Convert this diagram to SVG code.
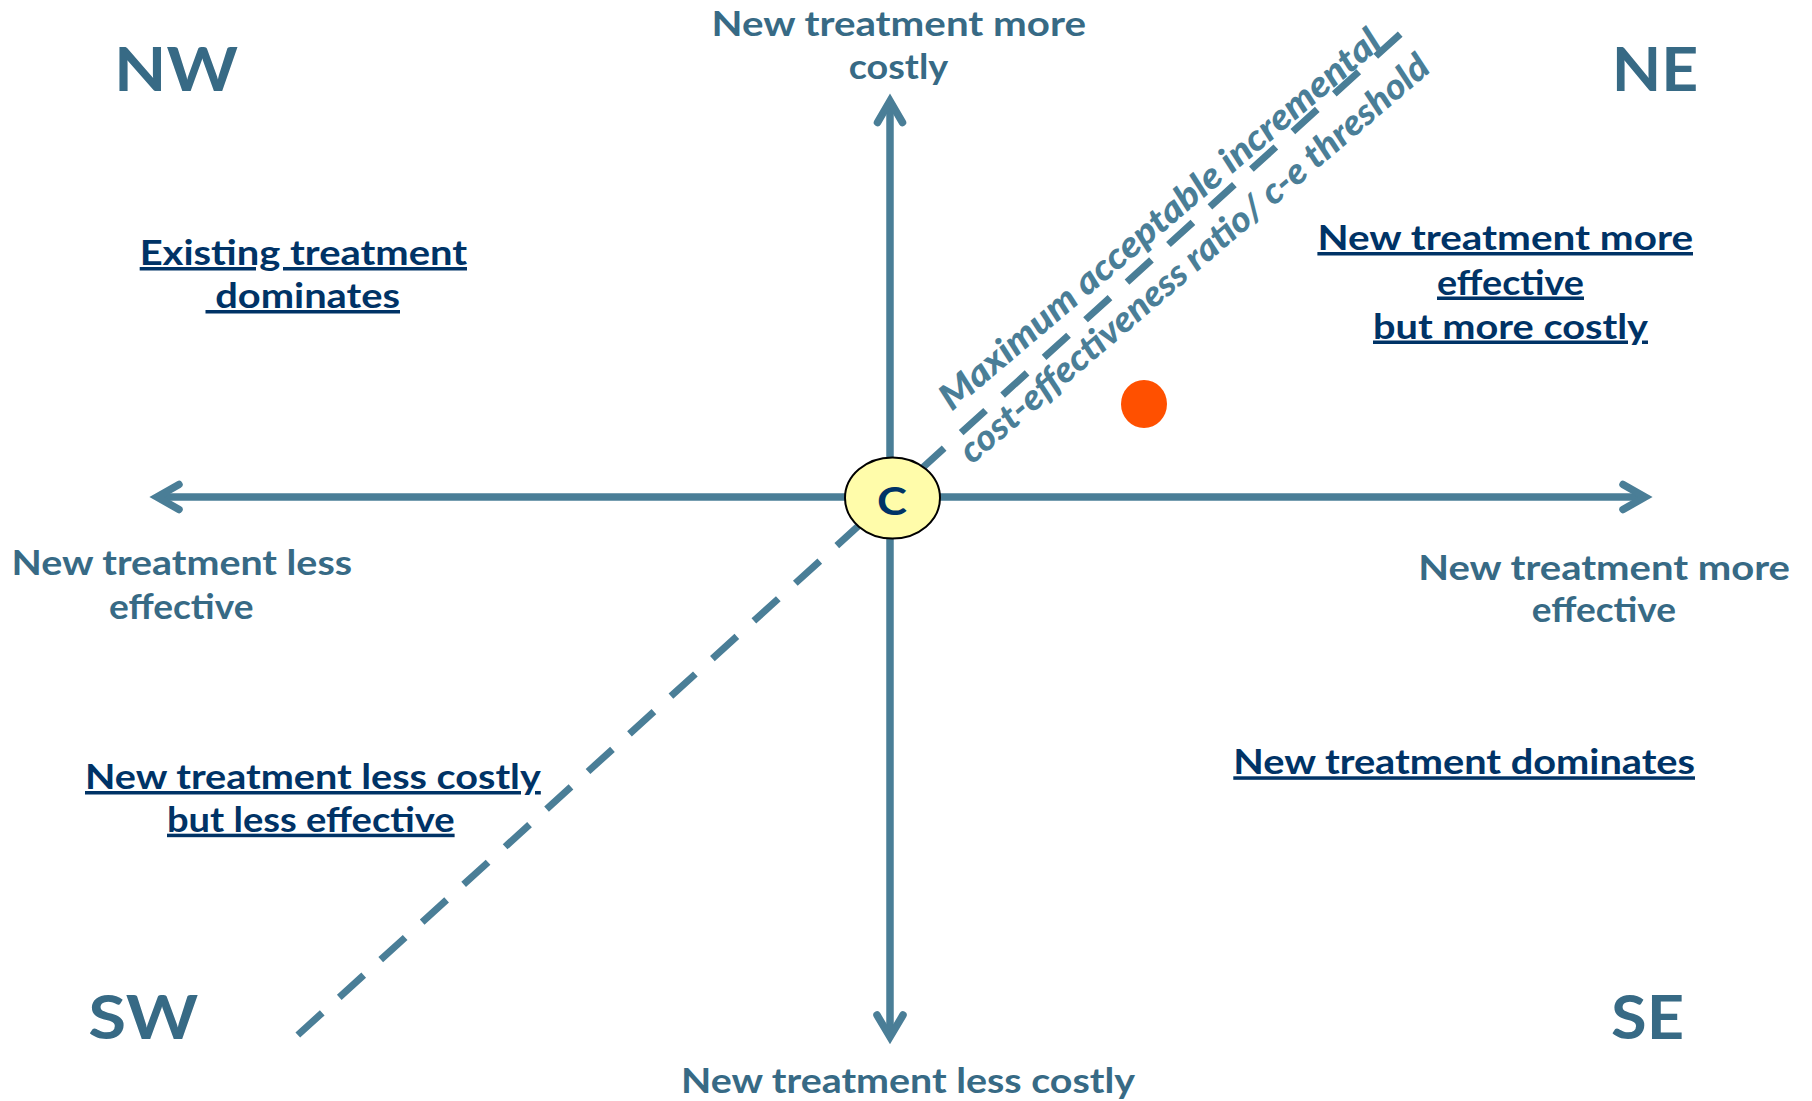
<svg xmlns="http://www.w3.org/2000/svg" width="1812" height="1101" viewBox="0 0 1812 1101">
  <style>
    text { font-family: Lato, "Liberation Sans", "DejaVu Sans", sans-serif; font-weight: bold; }
    .corner { font-size: 61px; fill: #376A85; }
    .axis { font-size: 34px; fill: #376A85; }
    .quad { font-size: 35px; fill: #003366; text-decoration: underline; }
    .rot { font-size: 36px; font-style: italic; font-weight: 900; fill: #4A7E97; }
    .ax { stroke: #4A7E97; stroke-width: 7.5; fill: none; stroke-linecap: round; stroke-linejoin: miter; }
    .dash { stroke: #4A7E97; stroke-width: 7; fill: none; stroke-dasharray: 33 23; stroke-linecap: butt; }
  </style>
  <rect width="1812" height="1101" fill="#FFFFFF"/>

  <g id="connectors">
    <g id="axis-horizontal">
      <line class="ax" x1="157" y1="497" x2="1645" y2="497" style="stroke-linecap:butt"/>
      <polyline class="ax" points="1623,484.5 1645,497 1623,509.5"/>
      <polyline class="ax" points="179,484.5 157,497 179,509.5"/>
    </g>
    <g id="axis-vertical">
      <line class="ax" x1="890" y1="101" x2="890" y2="1037" style="stroke-linecap:butt"/>
      <polyline class="ax" points="877.5,122.5 890,101 902.5,122.5"/>
      <polyline class="ax" points="877,1015 890,1037 903,1015"/>
    </g>
    <line id="threshold-line" class="dash" x1="297.8" y1="1035" x2="1400.3" y2="34"/>
  </g>

  <g id="node-origin">
    <ellipse cx="892.5" cy="498" rx="47.5" ry="40.5" fill="#FFFCAA" stroke="#000000" stroke-width="2"/>
    <text x="892" y="515" text-anchor="middle" font-size="39" fill="#003366" textLength="30" lengthAdjust="spacingAndGlyphs">C</text>
  </g>

  <g id="node-point">
    <ellipse cx="1144" cy="404" rx="23" ry="24" fill="#FF5000"/>
  </g>

  <g id="corner-NW"><text class="corner" x="114" y="90.7" textLength="124" lengthAdjust="spacingAndGlyphs">NW</text></g>
  <g id="corner-NE"><text class="corner" x="1611.7" y="90.7" textLength="86.6" lengthAdjust="spacingAndGlyphs">NE</text></g>
  <g id="corner-SW"><text class="corner" x="88.3" y="1038.5" textLength="110" lengthAdjust="spacingAndGlyphs">SW</text></g>
  <g id="corner-SE"><text class="corner" x="1611" y="1038.5" textLength="73" lengthAdjust="spacingAndGlyphs">SE</text></g>

  <g id="label-more-costly">
    <text class="axis" x="711.5" y="36" textLength="374.5" lengthAdjust="spacingAndGlyphs">New treatment more</text>
    <text class="axis" x="848.7" y="79" textLength="99.5" lengthAdjust="spacingAndGlyphs">costly</text>
  </g>
  <g id="label-less-effective">
    <text class="axis" x="11.5" y="575" textLength="340.5" lengthAdjust="spacingAndGlyphs">New treatment less</text>
    <text class="axis" x="109" y="619" textLength="144.4" lengthAdjust="spacingAndGlyphs">effective</text>
  </g>
  <g id="label-more-effective">
    <text class="axis" x="1418.3" y="580" textLength="371.7" lengthAdjust="spacingAndGlyphs">New treatment more</text>
    <text class="axis" x="1531.7" y="621.5" textLength="144.3" lengthAdjust="spacingAndGlyphs">effective</text>
  </g>
  <g id="label-less-costly">
    <text class="axis" x="681" y="1093" textLength="454" lengthAdjust="spacingAndGlyphs">New treatment less costly</text>
  </g>

  <g id="quadrant-NW">
    <text class="quad" x="139.7" y="265" textLength="327.3" lengthAdjust="spacingAndGlyphs">Existing treatment</text>
    <text class="quad" x="205.5" y="308" textLength="194.5" lengthAdjust="spacingAndGlyphs" style="white-space:pre"> dominates</text>
  </g>
  <g id="quadrant-NE">
    <text class="quad" x="1317.4" y="250" textLength="375.6" lengthAdjust="spacingAndGlyphs">New treatment more</text>
    <text class="quad" x="1437" y="294.5" textLength="147" lengthAdjust="spacingAndGlyphs">effective</text>
    <text class="quad" x="1373" y="338.5" textLength="275" lengthAdjust="spacingAndGlyphs">but more costly</text>
  </g>
  <g id="quadrant-SW">
    <text class="quad" x="85" y="789" textLength="455.8" lengthAdjust="spacingAndGlyphs">New treatment less costly</text>
    <text class="quad" x="167" y="831.7" textLength="287.6" lengthAdjust="spacingAndGlyphs">but less effective</text>
  </g>
  <g id="quadrant-SE">
    <text class="quad" x="1233.3" y="774.3" textLength="461.7" lengthAdjust="spacingAndGlyphs">New treatment dominates</text>
  </g>

  <g id="threshold-label">
    <text class="rot" x="951.7" y="411.7" transform="rotate(-40.3 951.7 411.7)" textLength="566" lengthAdjust="spacingAndGlyphs">Maximum acceptable incremental</text>
    <text class="rot" x="972" y="465" transform="rotate(-40.6 972 465)" textLength="606" lengthAdjust="spacingAndGlyphs">cost-effectiveness ratio/ c-e threshold</text>
  </g>
</svg>
